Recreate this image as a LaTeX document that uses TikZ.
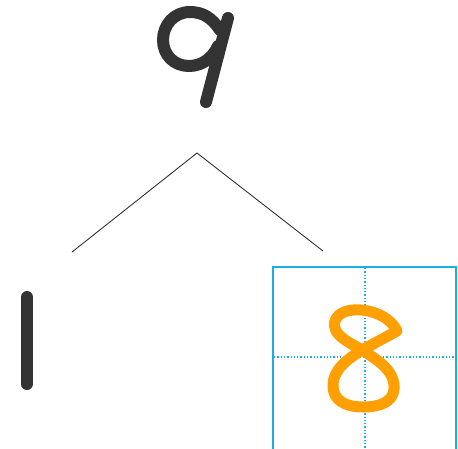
\documentclass[tikz,border=0pt]{standalone}
\definecolor{digitgray}{HTML}{333333}
\definecolor{gridblue}{HTML}{1AAFE6}
\definecolor{eightorange}{HTML}{FF9F00}
\tikzset{
  glyph/.style={line width=12pt, line cap=round, line join=round},
  branch/.style={draw=digitgray, line width=0.9pt},
  gridbox/.style={draw=gridblue, line width=2.2pt},
  gridline/.style={draw=gridblue, line width=1.3pt, dotted}
}
\begin{document}
\begin{tikzpicture}[x=1pt,y=-1pt]
\useasboundingbox[fill=white] (0,0) rectangle (458,448);
% digit 9
\draw[glyph, digitgray] (220,30) .. controls (212,18) and (203,12) .. (190,12)
  .. controls (174,12) and (163,25) .. (163,40)
  .. controls (163,55) and (174,66) .. (189,66)
  .. controls (203,66) and (213,57) .. (218,46);
\draw[glyph, digitgray] (228,18) -- (206,102);
% branches
\coordinate (apex) at (197,153);
\coordinate (leftend) at (72,252);
\coordinate (rightend) at (323,251);
\draw[branch] (leftend) -- (apex) -- (rightend);
% digit 1
\draw[glyph, digitgray] (27,297) -- (27,384);
% grid box
\draw[gridline] (365,268) -- (365,448);
\draw[gridline] (274,357) -- (456,357);
\draw[gridbox] (273,267) rectangle (456,451);
% digit 8
\draw[glyph, line width=11pt, eightorange] (397,331) .. controls (386,307) and (340,303) .. (335,321)
  .. controls (331,335) and (349,342) .. (362,350)
  .. controls (381,362) and (395,372) .. (394,389)
  .. controls (393,402) and (380,407) .. (363,407)
  .. controls (345,407) and (333,400) .. (333,386)
  .. controls (333,369) and (348,359) .. (362,350)
  -- (397,331);
\end{tikzpicture}
\end{document}
